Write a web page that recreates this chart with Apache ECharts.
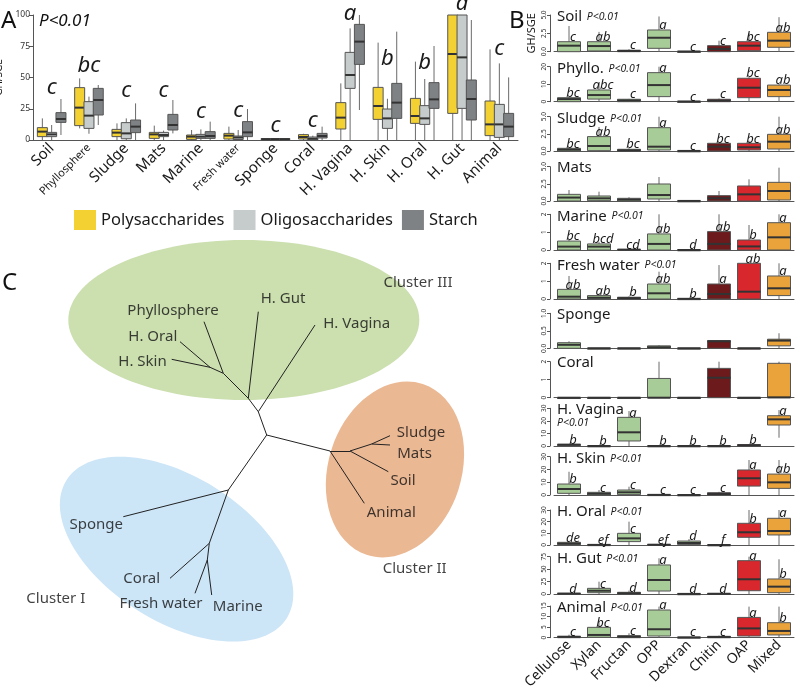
<!DOCTYPE html>
<html><head><meta charset="utf-8">
<script src="https://cdn.jsdelivr.net/npm/echarts@6/dist/echarts.min.js"></script>
<style>html,body{margin:0;padding:0;background:#fff}#c{width:800px;height:689px}</style>
</head><body><div id="c"></div>
<script>
const FONT = 'Noto Sans';
// ---------- Panel A ----------
const catsA = ['Soil','Phyllosphere','Sludge','Mats','Marine','Fresh water','Sponge','Coral','H. Vagina','H. Skin','H. Oral','H. Gut','Animal'];
// [whisker low, Q1, median, Q3, whisker high]
const polyA = [[0,2.7,6.7,9.9,17.3],[9.3,11.5,25.9,41.9,49.3],[0,2.7,5.9,8.5,13.3],[0,1.3,4.5,6.1,11.5],[0,0.5,2.7,4,8],[0,0.8,3.5,5.3,10.7],[0,0.2,0.6,1.2,1.5],[0,0.8,2.4,4.3,5],[0,8.8,17.9,29.9,45.3],[0,16.5,27.2,42.1,77.9],[0,13.3,19.2,33.3,62.7],[0,21.3,68.8,100,100],[0,3.5,12.5,31.2,72.5]];
const oligoA = [[0,2.7,4.5,6.1,12],[5,9.3,19.5,30.7,34.7],[0,1,5.3,13.9,17.3],[0,2.7,4,6.1,7.5],[0,1.3,2.7,4.5,8.5],[0,0.4,2,3.2,8],[0,0.2,0.6,1.2,1.5],[0,0,1,2.4,3.5],[0,41.3,52,70.1,89.3],[0,9.3,17.3,24.8,33],[0,12.5,17.3,27.5,48.8],[0,25.3,66.1,100,100],[0,2.1,12.5,28.5,61.3]];
const starchA = [[4,14.1,16.8,21.9,32.8],[12,20,32,41.3,44],[0,5.9,10.7,16,29.3],[5.3,8,12,20.5,32],[0,1.3,3.2,6.7,14.7],[0,2.7,6.1,14.7,24.8],[0,0.2,0.6,1.2,1.5],[0,1.6,3.2,5.3,10.7],[24,60.5,78.7,92.5,100],[0,17.3,29.9,45.3,86.7],[0,25.3,32.5,45.9,75.2],[0,16,32.8,48,96],[0,2.7,10.7,21.3,50.1]];
const lettersA = ['c','bc','c','c','c','c','c','c','a','b','b','a','c'];
const letterBaseA = [37.4,54.6,34.6,34.6,18.2,18.6,6.6,10.6,96,60,57.4,104,68];
const seriesNamesA = ['Polysaccharides','Oligosaccharides','Starch'];

// ---------- Panel B ----------
const catsB = ['Cellulose','Xylan','Fructan','OPP','Dextran','Chitin','OAP','Mixed'];
const panelsB = ['Soil','Phyllo.','Sludge','Mats','Marine','Fresh water','Sponge','Coral','H. Vagina','H. Skin','H. Oral','H. Gut','Animal'];
const pValueB = [true,true,true,false,true,true,false,false,true,true,true,true,true];
const yMaxB = [5,20,5,5,2,2,1,2,30,30,30,75,15];
const yStepB = [2.5,10,2.5,2.5,1,1,0.5,1,10,10,10,25,5];
const bSoil = [[0,0,0.82,1.36,3.5],[0,0.1,0.77,1.36,2.7],[0,0,0.1,0.2,0.33],[0,0.46,1.9,2.96,4.8],[0,0,0.02,0.05,0.05],[0,0,0.37,0.82,1.5],[0,0.14,0.82,1.36,2.5],[0,0.6,1.5,2.64,4.7]];
const bPhyllo = [[0,0,1.5,2.3,2.5],[0,1.5,3.8,6.7,10.5],[0,0,0.7,1.4,1.6],[0,2.9,9.5,16.6,20],[0,0,0.1,0.2,0.2],[0,0,0.6,1.4,1.8],[0,2.3,8,13.4,14],[0,2.9,6.7,9.5,10]];
const bSludge = [[0,0,0.2,0.39,0.5],[0,0.05,0.73,2.1,3.5],[0,0,0.1,0.25,0.4],[0,0.15,0.63,3.4,5],[0,0,0.01,0.02,0.02],[0,0,0.63,1.12,1.2],[0,0.15,0.54,1.12,1.5],[0,0.29,1.36,2.43,5]];
const bMats = [[0,0,0.5,0.97,1.6],[0,0.05,0.39,0.73,1.36],[0,0,0.2,0.39,0.55],[0,0.29,0.87,2.48,3.5],[0,0,0.01,0.02,0.02],[0,0,0.4,0.78,1.46],[0,0,0.97,2.19,3.16],[0,0.15,1.46,2.72,4.86]];
const bMarine = [[0,0,0.19,0.5,0.6],[0,0,0.19,0.34,0.45],[0,0,0.02,0.03,0.05],[0,0,0.34,0.9,2],[0,0,0,0.01,0.01],[0,0,0.34,1.03,2],[0,0,0.2,0.56,1.4],[0,0,0.71,1.53,2]];
const bFresh = [[0,0,0.13,0.54,1.29],[0,0,0.07,0.19,0.3],[0,0,0.05,0.1,0.15],[0,0,0.32,0.84,1.53],[0,0,0.01,0.02,0.02],[0,0,0.28,0.84,1.9],[0,0,0.41,2,2],[0,0.19,0.6,1.29,2]];
const bSponge = [[0,0,0.1,0.16,0.2],[0,0,0,0.005,0.005],[0,0,0,0.005,0.005],[0,0,0.03,0.07,0.09],[0,0,0,0.005,0.005],[0,0,0.2,0.22,0.22],[0,0,0,0.005,0.005],[0,0.07,0.22,0.26,0.43]];
const bCoral = [[0,0,0,0.01,0.01],[0,0,0,0.01,0.01],[0,0,0,0.01,0.01],[0,0,0,1.07,2],[0,0,0,0.01,0.01],[0,0,1.11,1.63,2],[0,0,0,0.01,0.01],[0,0,0.02,1.91,2]];
const bVagina = [[0,0.3,1,1.35,1.5],[0,0,0,0.1,0.1],[0,4,10.9,22.8,27.8],[0,0,0,0.1,0.1],[0,0,0,0.1,0.1],[0,0,0,0.1,0.1],[0,0.2,0.6,1.1,1.3],[6.6,16.7,21.2,24.1,28.6]];
const bSkin = [[0,1.3,4.7,8.6,18.2],[0,0,1,2.1,3.9],[0,0.3,2.1,3.9,6.5],[0,0,0.1,0.3,0.3],[0,0,0,0.1,0.1],[0,0,0.8,1.8,2.5],[0,7,13.1,19.6,27.4],[0,5.2,9.9,16.4,27.4]];
const bOral = [[0,0.3,1.2,2.3,2.6],[0,0,0.1,0.3,0.3],[0,2.9,5.7,10,20],[0,0,0.2,0.5,0.5],[0,0.5,1.7,3.4,5.1],[0,0,0,0.1,0.1],[0,6.6,10.9,18.6,30],[0,8.6,12,22.9,30]];
const bGut = [[0,0,0.7,1.4,2],[0,2.6,6.6,11.4,24.8],[0,0,1.5,3.4,7],[0,6,28.2,58.4,71.8],[0,0,0.2,0.5,0.5],[0,0,0.5,1,1],[0,6.6,29.6,67,75],[0,2.6,14.8,30.2,69.8]];
const bAnimal = [[0,0,0.4,0.66,1.4],[0,0.2,1.3,4.9,7.6],[0,0,0.5,0.95,2.1],[0,0.8,4,13.1,14.7],[0,0,0.1,0.3,0.3],[0,0,0.3,0.66,1],[0,0.8,4.4,9.6,14.7],[0,1.3,3.2,7.1,14.7]];
const lettersB = [
  ['c','ab','c','a','c','c','bc','ab'],
  ['bc','abc','c','a','c','c','bc','ab'],
  ['bc','ab','bc','a','c','bc','bc','ab'],
  [],
  ['bc','bcd','cd','ab','d','ab','b','a'],
  ['ab','ab','b','ab','b','a','ab','a'],
  [],[],
  ['b','b','a','b','b','b','b','a'],
  ['b','c','c','c','c','c','a','ab'],
  ['de','ef','c','ef','d','f','b','a'],
  ['d','c','d','a','d','d','a','b'],
  ['c','bc','c','a','c','c','a','b']
];
const dataB = [bSoil,bPhyllo,bSludge,bMats,bMarine,bFresh,bSponge,bCoral,bVagina,bSkin,bOral,bGut,bAnimal];

// ---------- Panel C (tree) ----------
const treeNodes = {
  R:[266.7,205], U1:[258.3,181.7], U2:[248.3,168.3], U3:[223.3,143.3], U4:[210,137.3],
  HVagina:[315,95], HGut:[258.3,81.7], Phyllo:[204,91.7], HOral:[180,111.7], HSkin:[171.7,129.3],
  R1:[330,221], R2:[350,221], R3:[371.7,214],
  Animal:[364.3,273.3], Soil:[388.3,241.7], Sludge:[390,205.7], Mats:[390,215],
  L1:[228.3,260], Sponge:[123.3,286.7], L2:[209.3,313.3], Coral:[170,348.3], L3:[207.3,330],
  FW:[195,363.3], Marine:[211.7,365]
};
const treeEdges = [['R','U1'],['U1','U2'],['U1','HVagina'],['U2','HGut'],['U2','U3'],['U3','Phyllo'],['U3','U4'],['U4','HOral'],['U4','HSkin'],
  ['R','R1'],['R1','R2'],['R1','Animal'],['R2','R3'],['R2','Soil'],['R3','Sludge'],['R3','Mats'],
  ['R','L1'],['L1','Sponge'],['L1','L2'],['L2','Coral'],['L2','L3'],['L3','FW'],['L3','Marine']];
const treeLabels = [['Phyllosphere',173,80.3],['H. Gut',283,69],['H. Vagina',356.7,94.2],['H. Oral',152.8,106.3],['H. Skin',142.5,132.2],
  ['Sludge',421,203],['Mats',414.5,223.3],['Soil',403,250.8],['Animal',391.3,282.5],
  ['Sponge',96.3,295],['Coral',141.7,348.5],['Fresh water',161,374],['Marine',237.7,377.2],
  ['Cluster I',55.8,368.8],['Cluster II',414.7,338.8],['Cluster III',418,52.5]];
// [cx, cy, rx, ry, rotation(deg, + = anticlockwise)]
const clusterEllipses = [[243.8,90,175.5,80,0],[395,239.5,66.6,89.9,-18],[176.7,319.2,130,72.6,-32]];
const clusterColors = ['#CBDFAF','#EBB894','#CCE5F7'];

// ---------- layout ----------
const colA = ['#F3D132','#C6CBCB','#7F8284'];
const colB = ['#A8CC97','#A8CC97','#A8CC97','#A8CC97','#A8CC97','#6C1A1B','#D8272D','#E9A33A'];
const bTop = [15,66.7,116.7,166.7,214.3,263.3,313.3,361.7,408.3,456.7,510,556.7,606];
const bBot = [51.7,101.7,151,201,250,299,348.3,397.7,446,495,545,594,637.7];

function boxRender(colorFn, width, offset, letters, letterFont, letterDx) {
  return function (params, api) {
    const ci = api.value(0);
    const cx = api.coord([ci, 0])[0] + offset;
    const py = k => api.coord([ci, api.value(k)])[1];
    const yLo = py(1), yQ1 = py(2), yMed = py(3), yQ3 = py(4), yHi = py(5);
    const ch = [
      {type:'line', shape:{x1:cx,y1:yHi,x2:cx,y2:yLo}, style:{stroke:'#6a6a6a', lineWidth:1}},
      {type:'rect', shape:{x:cx-width/2, y:yQ3, width:width, height:Math.max(yQ1-yQ3,1)}, style:{fill:colorFn(params.dataIndex), stroke:'#555', lineWidth:1}},
      {type:'line', shape:{x1:cx-width/2,y1:yMed,x2:cx+width/2,y2:yMed}, style:{stroke:'#333', lineWidth:2}}
    ];
    if (letters && letters[params.dataIndex]) {
      ch.push({type:'text', x:cx+letterDx, y:yQ3+2, style:{text:letters[params.dataIndex], font:letterFont, fill:'#1a1a1a', align:'center', verticalAlign:'bottom'}});
    }
    return {type:'group', children:ch};
  };
}

const grids = [], xAxes = [], yAxes = [], series = [], titles = [];
// Panel A grid
grids.push({left:33, top:15, width:485, height:125, outerBoundsMode:'none'});
xAxes.push({type:'category', gridIndex:0,
  data: catsA.map(c => (c==='Phyllosphere'||c==='Fresh water') ? {value:c, textStyle:{fontSize:11}} : c),
  axisLine:{lineStyle:{color:'#555'}}, axisTick:{alignWithLabel:true, length:4, lineStyle:{color:'#555'}},
  axisLabel:{rotate:45, fontSize:15, color:'#1a1a1a', margin:6, interval:0, fontFamily:FONT}, splitLine:{show:false}});
yAxes.push({type:'value', gridIndex:0, min:0, max:100, interval:25,
  name:'GH/SGE', nameLocation:'middle', nameGap:13, nameTextStyle:{fontSize:10, color:'#1a1a1a', fontFamily:FONT},
  axisLine:{show:true, lineStyle:{color:'#555'}}, axisTick:{show:true, length:4, lineStyle:{color:'#555'}},
  axisLabel:{fontSize:8.5, color:'#333', margin:3}, splitLine:{show:false}});
[polyA, oligoA, starchA].forEach((arr, si) => {
  series.push({type:'custom', name:seriesNamesA[si], xAxisIndex:0, yAxisIndex:0,
    itemStyle:{color:colA[si]},
    renderItem: boxRender(() => colA[si], 10, (si-1)*9.3, null),
    encode:{x:0, y:[1,2,3,4,5]},
    data: arr.map((v,i) => [i].concat(v))});
});
series.push({type:'custom', xAxisIndex:0, yAxisIndex:0, silent:true,
  renderItem: function(params, api){
    const p = api.coord([api.value(0), api.value(1)]);
    return {type:'text', x:p[0], y:p[1]+5, style:{text:lettersA[params.dataIndex], font:'italic 22px "Noto Sans"', fill:'#1a1a1a', align:'center', verticalAlign:'bottom'}};
  },
  encode:{x:0, y:1},
  data: letterBaseA.map((v,i) => [i, v])});

// Panel B grids
for (let p = 0; p < 13; p++) {
  const gi = p + 1;
  grids.push({left:554, top:bTop[p], width:240, height:bBot[p]-bTop[p], outerBoundsMode:'none'});
  const last = p === 12;
  xAxes.push({type:'category', gridIndex:gi, data:catsB,
    axisLine:{lineStyle:{color:'#555'}}, axisTick:{alignWithLabel:true, length:3, lineStyle:{color:'#555'}},
    axisLabel:{show:last, rotate:45, fontSize:14, color:'#1a1a1a', margin:5, interval:0, fontFamily:FONT}});
  const dec = (yStepB[p] % 1 !== 0) || yMaxB[p] === 5;
  yAxes.push({type:'value', gridIndex:gi, min:0, max:yMaxB[p], interval:yStepB[p], offset:4,
    name: p===0 ? 'GH/SGE' : '', nameLocation:'middle', nameGap:13, nameTextStyle:{fontSize:11, color:'#1a1a1a', fontFamily:FONT},
    axisLine:{show:true, lineStyle:{color:'#555'}}, axisTick:{show:true, length:3, lineStyle:{color:'#555'}},
    axisLabel:{rotate:90, fontSize:6.5, color:'#333', margin:2, formatter: v => dec ? v.toFixed(1) : String(v)},
    splitLine:{show:false}});
  series.push({type:'custom', xAxisIndex:gi, yAxisIndex:gi,
    renderItem: boxRender(i => colB[i], 23, 0, lettersB[p], 'italic 13px "Noto Sans"', 4),
    encode:{x:0, y:[1,2,3,4,5]},
    data: dataB[p].map((v,i) => [i].concat(v))});
  let txt = '{n|' + panelsB[p] + '}';
  if (pValueB[p]) txt += (panelsB[p]==='H. Vagina' ? '\n' : ' ') + '{p|P<0.01}';
  titles.push({text:txt, left:557, top: bTop[p] - 7, padding:0, itemGap:0,
    textStyle:{fontWeight:'normal', rich:{
      n:{fontSize:15, color:'#1a1a1a', fontFamily:FONT, fontWeight:'normal', lineHeight:17},
      p:{fontSize:10.5, color:'#1a1a1a', fontStyle:'italic', fontWeight:'normal', fontFamily:FONT, lineHeight:10}}}});
}

// Panel C grid
const gC = 14;
grids.push({left:0, top:230, width:500, height:459, outerBoundsMode:'none'});
xAxes.push({type:'value', gridIndex:gC, min:0, max:500, show:false});
yAxes.push({type:'value', gridIndex:gC, min:0, max:459, inverse:true, show:false});
series.push({type:'custom', xAxisIndex:gC, yAxisIndex:gC, silent:true, z:1,
  renderItem: function(params, api){
    const c = api.coord([api.value(0), api.value(1)]);
    const s = api.size([api.value(2), api.value(3)]);
    return {type:'ellipse', x:c[0], y:c[1], rotation: api.value(4)*Math.PI/180,
      shape:{cx:0, cy:0, rx:s[0], ry:s[1]}, style:{fill:clusterColors[params.dataIndex]}};
  },
  encode:{x:0, y:1},
  data: clusterEllipses});
series.push({type:'lines', coordinateSystem:'cartesian2d', xAxisIndex:gC, yAxisIndex:gC, silent:true, z:2,
  lineStyle:{color:'#222', width:1, opacity:1},
  data: treeEdges.map(e => ({coords:[treeNodes[e[0]], treeNodes[e[1]]]}))});
series.push({type:'scatter', xAxisIndex:gC, yAxisIndex:gC, silent:true, z:3, symbolSize:0,
  label:{show:true, position:'inside', formatter:'{b}', fontSize:15, color:'#111', fontFamily:FONT},
  data: treeLabels.map(l => ({name:l[0], value:[l[1], l[2]]}))});

const option = {
  animation:false,
  textStyle:{fontFamily:FONT},
  title: titles,
  legend:{data:seriesNamesA, left:74, top:210, padding:0, itemWidth:22, itemHeight:20, itemGap:9, icon:'rect',
    itemStyle:{borderWidth:0}, textStyle:{fontSize:16.5, color:'#1a1a1a', fontFamily:FONT}, selectedMode:false},
  grid: grids, xAxis: xAxes, yAxis: yAxes, series: series,
  graphic: [
    {type:'text', left:1, top:9, style:{text:'A', font:'24px "Noto Sans"', fill:'#111'}},
    {type:'text', left:39, top:13, style:{text:'P<0.01', font:'italic 17px "Noto Sans"', fill:'#111'}},
    {type:'text', left:509, top:9, style:{text:'B', font:'24px "Noto Sans"', fill:'#111'}},
    {type:'text', left:2, top:271, style:{text:'C', font:'24px "Noto Sans"', fill:'#111'}}
  ]
};
const chart = echarts.init(document.getElementById('c'), null, {renderer:'canvas'});
chart.setOption(option);
</script></body></html>
